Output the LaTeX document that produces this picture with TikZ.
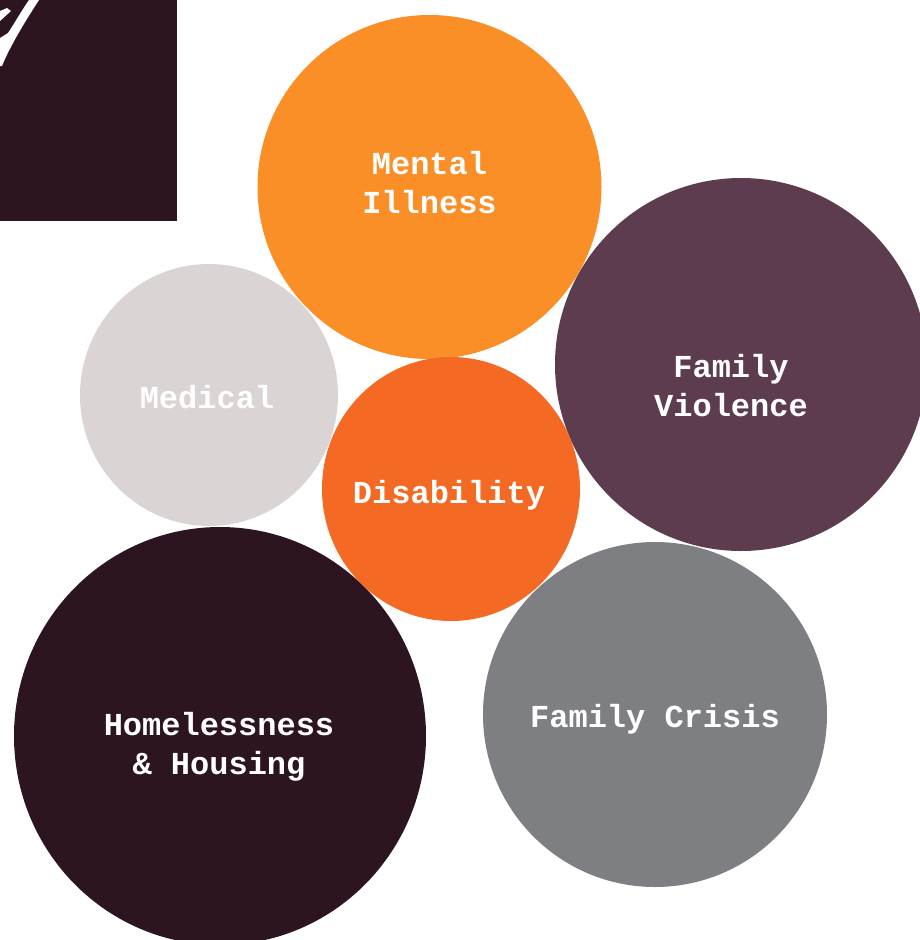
\documentclass[tikz,border=0pt]{standalone}
\usepackage{fontspec}
\usepackage{xcolor}
\usepackage{tikz}
\usetikzlibrary{shapes.geometric, positioning}
\setmonofont{Liberation Mono}
\definecolor{darkplum}{HTML}{2C1521}
\definecolor{plum}{HTML}{5D3C4F}
\definecolor{amber}{HTML}{FA8F27}
\definecolor{burnt}{HTML}{F46A25}
\definecolor{stone}{HTML}{DAD5D4}
\definecolor{slategrey}{HTML}{7E7F82}
\tikzset{
  bubble/.style={ellipse, inner sep=0pt},
  bubbletext/.style={inner sep=0pt, align=center, text=white,
    font=\fontsize{32}{39}\selectfont\ttfamily\bfseries},
}

\begin{document}
\begin{tikzpicture}[x=1pt, y=-1pt]
            \useasboundingbox (0,0) rectangle (919,940);

            % Corner panel
            \fill[darkplum] (0,0) rectangle (177,220.5);
            \fill[white] (29,0) -- (39,0) .. controls (26,20) and (10,46) .. (2,66) -- (0,66) -- (0,38) -- (8,33) .. controls (14,24) and (22,10) .. cycle;
            \fill[white] (0,11) -- (7,8) -- (11,11) -- (0,21) -- cycle;

            % Bubbles
            \node[bubble, fill=amber, minimum width=344pt, minimum height=344pt] (mental) at (429.5,187) {};
            \node[bubble, fill=plum, minimum width=372pt, minimum height=373pt] (violence) at (741,364.5) {};
            \node[bubble, fill=stone, minimum width=258pt, minimum height=262pt] (medical) at (209,395) {};
            \node[bubble, fill=darkplum, minimum width=412pt, minimum height=418pt] (housing) at (220,736) {};
            \node[bubble, fill=slategrey, minimum width=344pt, minimum height=345pt] (crisis) at (655,714.5) {};
            \node[bubble, fill=burnt, minimum width=258pt, minimum height=264pt] (disability) at (451,489) {};

            % Labels
            \node[bubbletext] (mentaltext) at (429.5,183) {Mental\\Illness};
            \node[bubbletext] (violencetext) at (731,386) {Family\\Violence};
            \node[bubbletext] (medicaltext) at (207,397) {Medical};
            \node[bubbletext] (housingtext) at (219,747) {Homelessness\\\& Housing};
            \node[bubbletext] (crisistext) at (655,719) {Family Crisis};
            \node[bubbletext] (disabilitytext) at (449,495) {Disability};
\end{tikzpicture}
\end{document}
